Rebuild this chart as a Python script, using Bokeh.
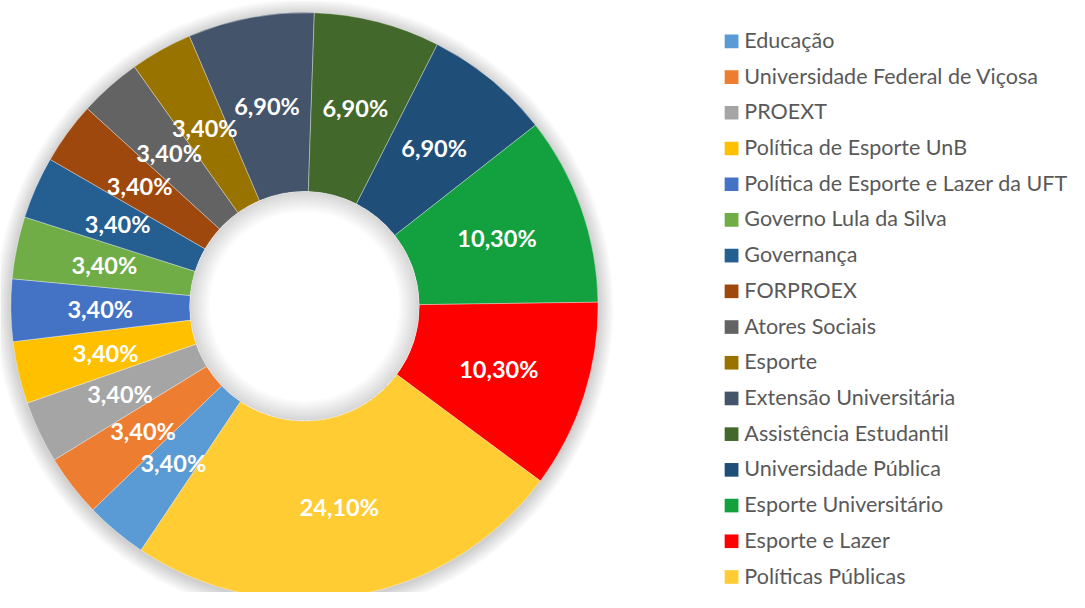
import math
from bokeh.plotting import figure
from bokeh.models import Range1d
from bokeh.core.properties import value
from bokeh.embed import file_html
from bokeh.resources import INLINE

categories = ["Educação", "Universidade Federal de Viçosa", "PROEXT", "Política de Esporte UnB",
              "Política de Esporte e Lazer da UFT", "Governo Lula da Silva", "Governança", "FORPROEX",
              "Atores Sociais", "Esporte", "Extensão Universitária", "Assistência Estudantil",
              "Universidade Pública", "Esporte Universitário", "Esporte e Lazer", "Políticas Públicas"]
values = [3.4, 3.4, 3.4, 3.4, 3.4, 3.4, 3.4, 3.4, 3.4, 3.4, 6.9, 6.9, 6.9, 10.3, 10.3, 24.1]
labels = ["3,40%"] * 10 + ["6,90%", "6,90%", "6,90%", "10,30%", "10,30%", "24,10%"]
colors = ["#5B9BD5", "#ED7D31", "#A5A5A5", "#FFC000", "#4472C4", "#70AD47", "#255E91", "#9E480E",
          "#636363", "#997300", "#44546A", "#43682B", "#1F4E79", "#13A03E", "#FF0000", "#FFCC33"]

# data space = reference-image pixel space (1085 x 608), y measured upward
RW, RH = 1085, 608
W, H = 1069, 592
CX, CY = 308.5, RH - 314.0
R_OUT, R_IN = 298.0, 116.5
FIRST_ANGLE = 213.8  # degrees clockwise from 12 o'clock

p = figure(width=W, height=H, output_backend="svg", toolbar_location=None,
           x_range=Range1d(0, RW), y_range=Range1d(0, RH),
           x_axis_type=None, y_axis_type=None, min_border=0,
           outline_line_color=None, background_fill_color="white", border_fill_color="white")
p.grid.visible = False

# soft outer shadow
for k in range(16, 0, -1):
    p.circle(x=[CX], y=[CY - 2], radius=R_OUT + k, fill_color="black", fill_alpha=0.011, line_color=None)

total = sum(values)
starts, ends, lx, ly = [], [], [], []
phi = FIRST_ANGLE
sy = (RH / H) / (RW / W)  # y data units per x data unit in pixels
for v in values:
    sweep = v / total * 360.0
    phi2 = phi + sweep
    starts.append(math.radians(90 - phi))
    ends.append(math.radians(90 - phi2))
    mid = math.radians(phi + sweep / 2)
    rm = (R_OUT + R_IN) / 2
    lx.append(CX + rm * math.sin(mid))
    ly.append(CY + rm * sy * math.cos(mid))
    phi = phi2

p.annular_wedge(x=[CX] * len(values), y=[CY] * len(values), inner_radius=R_IN, outer_radius=R_OUT,
                start_angle=starts, end_angle=ends, direction="clock",
                fill_color=colors, line_color="white", line_alpha=0.5, line_width=0.7)

# inner hole shadow
p.circle(x=[CX], y=[CY], radius=R_IN, fill_color="white", line_color=None)
for k in range(1, 22):
    p.annulus(x=[CX], y=[CY], inner_radius=R_IN - k, outer_radius=R_IN,
              fill_color="black", fill_alpha=0.006, line_color=None)

p.text(x=lx, y=ly, text=labels, text_color="white", text_font=value("Lato"),
       text_font_style="bold", text_font_size="23.5px", text_align="center", text_baseline="middle")

# legend
n = len(categories)
leg_y = [RH - (42 + 36.67 * i) for i in range(n)]
p.rect(x=[742] * n, y=leg_y, width=14, height=14, fill_color=colors, line_color=None)
p.text(x=[755] * n, y=[yy + 1.5 for yy in leg_y], text=categories, text_color="#595959",
       text_font=value("Lato"), text_font_size="21.5px", text_align="left", text_baseline="middle")

open("out.html", "w").write(file_html(p, INLINE))
